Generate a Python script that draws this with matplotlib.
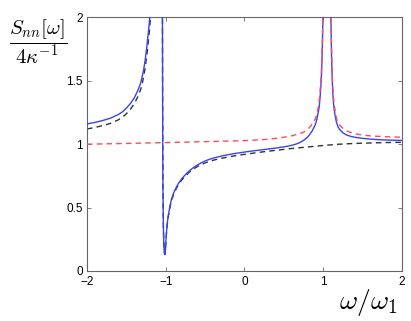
import numpy as np
import matplotlib
matplotlib.use("Agg")
import matplotlib.pyplot as plt

# values (values > 2 run off the top of the axes)
blue_x = [-2.0, -1.9, -1.8, -1.7, -1.6, -1.55, -1.5, -1.45, -1.4, -1.35, -1.32, -1.3,
          -1.28, -1.26, -1.24, -1.23, -1.22, -1.21, -1.2, -1.19, -1.17,
          -1.045, -1.042, -1.04, -1.038, -1.036, -1.033, -1.03, -1.025, -1.02, -1.015,
          -1.01, -1.005, -1.0, -0.99, -0.98, -0.97, -0.95, -0.93, -0.9, -0.87, -0.84,
          -0.8, -0.75, -0.7, -0.65, -0.6, -0.55, -0.5, -0.44, -0.35, -0.25, -0.15, 0.0,
          0.1, 0.2, 0.3, 0.4, 0.5, 0.58, 0.65, 0.7, 0.75, 0.8, 0.83, 0.86, 0.88, 0.9,
          0.92, 0.94, 0.95, 0.96, 0.97, 0.98, 0.99, 1.0, 1.01,
          1.08, 1.09, 1.1, 1.105, 1.11, 1.115, 1.12, 1.13, 1.14, 1.155, 1.17, 1.19,
          1.21, 1.25, 1.3, 1.35, 1.4, 1.5, 1.6, 1.7, 1.8, 1.9, 2.0]
blue_y = [1.16, 1.172, 1.187, 1.206, 1.235, 1.255, 1.285, 1.32, 1.365, 1.43, 1.48, 1.53,
          1.59, 1.67, 1.77, 1.83, 1.89, 1.95, 2.02, 2.1, 2.4,
          2.6, 2.0, 1.5, 1.0, 0.7, 0.5, 0.35, 0.22, 0.16, 0.135,
          0.13, 0.16, 0.22, 0.31, 0.38, 0.43, 0.50, 0.56, 0.615, 0.655, 0.69,
          0.725, 0.76, 0.79, 0.815, 0.835, 0.853, 0.868, 0.882, 0.898, 0.912, 0.924, 0.938,
          0.947, 0.954, 0.962, 0.97, 0.979, 0.988, 1.0, 1.012, 1.03, 1.055, 1.078, 1.105,
          1.13, 1.155, 1.2, 1.26, 1.3, 1.37, 1.45, 1.58, 1.8, 2.15, 2.6,
          2.6, 2.25, 1.9, 1.72, 1.6, 1.5, 1.42, 1.33, 1.27, 1.21, 1.17, 1.135,
          1.115, 1.09, 1.072, 1.062, 1.055, 1.046, 1.04, 1.036, 1.033, 1.031, 1.03]

black_x = [-2.0, -1.9, -1.8, -1.7, -1.6, -1.55, -1.5, -1.45, -1.4, -1.35, -1.32, -1.3,
           -1.28, -1.26, -1.24, -1.23, -1.22, -1.21, -1.2, -1.19, -1.17,
           -1.045, -1.042, -1.04, -1.038, -1.036, -1.033, -1.03, -1.025, -1.02, -1.015,
           -1.01, -1.005, -1.0, -0.99, -0.98, -0.97, -0.95, -0.93, -0.9, -0.87, -0.84,
           -0.8, -0.75, -0.7, -0.65, -0.6, -0.5, -0.4, -0.3, -0.2, -0.1, 0.0, 0.2, 0.4,
           0.6, 0.8, 1.0, 1.2, 1.4, 1.6, 1.8, 2.0]
black_y = [1.12, 1.132, 1.147, 1.165, 1.193, 1.213, 1.24, 1.275, 1.32, 1.38, 1.43, 1.475,
           1.535, 1.61, 1.70, 1.76, 1.82, 1.88, 1.95, 2.03, 2.3,
           2.6, 2.0, 1.5, 1.0, 0.7, 0.5, 0.35, 0.22, 0.16, 0.135,
           0.13, 0.155, 0.21, 0.30, 0.37, 0.42, 0.49, 0.55, 0.605, 0.645, 0.68,
           0.715, 0.75, 0.78, 0.803, 0.823, 0.853, 0.873, 0.888, 0.90, 0.911, 0.92, 0.937, 0.952,
           0.966, 0.978, 0.99, 1.0, 1.006, 1.01, 1.013, 1.015]

red_x = [-2.0, -1.5, -1.0, -0.5, 0.0, 0.2, 0.32, 0.45, 0.58, 0.68, 0.75, 0.8, 0.83, 0.86,
         0.9, 0.92, 0.94, 0.95, 0.96, 0.97, 0.98, 0.99, 1.0, 1.01,
         1.08, 1.09, 1.1, 1.105, 1.11, 1.115, 1.12, 1.13, 1.14, 1.155, 1.17, 1.19, 1.21,
         1.25, 1.3, 1.35, 1.4, 1.5, 1.6, 1.7, 1.8, 1.9, 2.0]
red_y = [1.0, 1.006, 1.013, 1.02, 1.028, 1.035, 1.04, 1.05, 1.063, 1.08, 1.095, 1.115,
         1.135, 1.16, 1.2, 1.24, 1.3, 1.35, 1.42, 1.5, 1.62, 1.82, 2.15, 2.6,
         2.6, 2.3, 1.95, 1.78, 1.65, 1.55, 1.47, 1.37, 1.31, 1.25, 1.2, 1.17, 1.15,
         1.125, 1.105, 1.092, 1.083, 1.072, 1.066, 1.062, 1.059, 1.057, 1.055]

xticks = [-2, -1, 0, 1, 2]
xticklabels = ["\u22122", "\u22121", "0", "1", "2"]
yticks = [0, 0.5, 1, 1.5, 2]
yticklabels = ["0", "0.5", "1", "1.5", "2"]

plt.rcParams["font.family"] = ["Liberation Sans", "DejaVu Sans"]
plt.rcParams["mathtext.fontset"] = "cm"

fig = plt.figure(figsize=(4.11, 3.21), dpi=100)
ax = fig.add_axes([0.2117, 0.156, 0.7663, 0.7895])

ax.plot(blue_x, blue_y, color="#3444f4", lw=1.0, zorder=3)
ax.plot(black_x, black_y, color="#333333", lw=1.0, ls=(0, (4, 3)), zorder=2)
ax.plot(red_x, red_y, color="#ff4a5a", lw=1.0, ls=(0, (4, 3)), zorder=4)

ax.set_xlim(-2, 2)
ax.set_ylim(0, 2)
ax.set_xticks(xticks)
ax.set_xticklabels(xticklabels)
ax.set_yticks(yticks)
ax.set_yticklabels(yticklabels)
ax.tick_params(direction="in", length=3, width=0.6, colors="#666666",
               labelcolor="black", labelsize=8.5, top=True, right=True)
ax.tick_params(axis="x", pad=3.5)
ax.tick_params(axis="y", pad=3)
for s in ax.spines.values():
    s.set_color("#666666")
    s.set_linewidth(0.8)

fig.text(38 / 411, 1 - 42 / 321, r"$\dfrac{S_{nn}[\omega]}{4\kappa^{-1}}$",
         fontsize=15, ha="center", va="center")
fig.text(368 / 411, 1 - 302 / 321, r"$\omega/\omega_1$",
         fontsize=20, ha="center", va="center")

fig.savefig("out.png", dpi=100)
